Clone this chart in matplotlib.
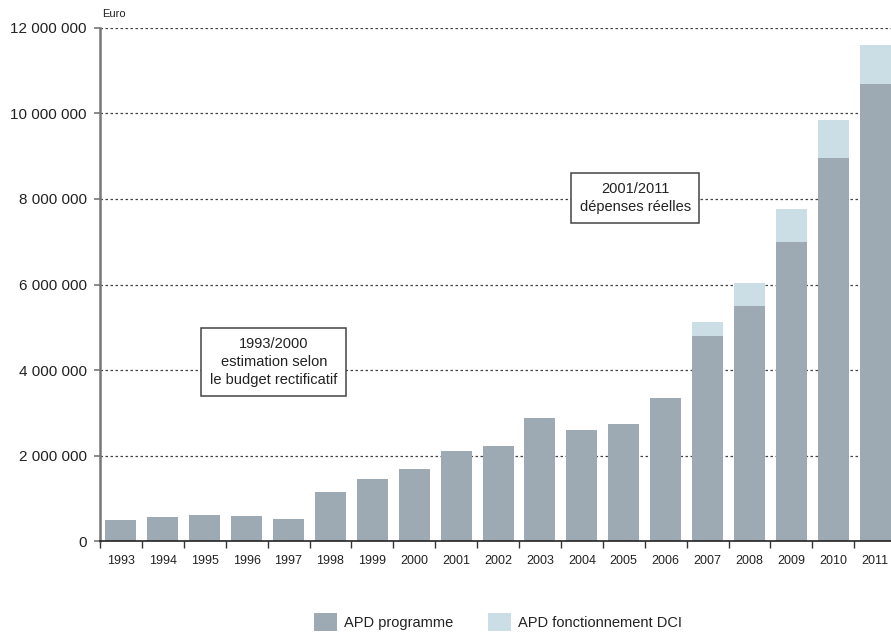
import matplotlib.pyplot as plt
from matplotlib.patches import Patch
from matplotlib.ticker import FuncFormatter

plt.rcParams['font.family'] = ['Liberation Sans', 'DejaVu Sans']

# data (euro)
years = ['1993', '1994', '1995', '1996', '1997', '1998', '1999', '2000', '2001', '2002',
         '2003', '2004', '2005', '2006', '2007', '2008', '2009', '2010', '2011']
programme = [500000, 570000, 615000, 590000, 520000, 1150000, 1455000, 1690000, 2110000, 2225000,
             2880000, 2600000, 2740000, 3350000, 4800000, 5500000, 6990000, 8955000, 10680000]
fonctionnement = [0, 0, 0, 0, 0, 0, 0, 0, 0, 0,
                  0, 0, 0, 0, 320000, 535000, 770000, 885000, 920000]

c_prog = '#9eaab3'
c_fonc = '#cbdde5'
txt = '#222222'

fig = plt.figure(figsize=(8.91, 6.32), dpi=100)
ax = fig.add_axes([100/891, 90.7/632, 791/891, (541.3-27.7)/632])

x = list(range(len(years)))
ax.bar(x, programme, width=0.74, color=c_prog, zorder=2)
ax.bar(x, fonctionnement, width=0.74, bottom=programme, color=c_fonc, zorder=2)

ax.set_xlim(-0.5, -0.5 + 791/41.9)
ax.set_ylim(0, 12000000)

# gridlines
for v in range(2000000, 12000001, 2000000):
    ax.axhline(v, color='#444444', lw=0.9, ls=(0, (2, 2)), zorder=1)

# y axis
ax.set_yticks(range(0, 12000001, 2000000))
ax.yaxis.set_major_formatter(FuncFormatter(lambda v, p: f'{int(v):,}'.replace(',', ' ')))
ax.tick_params(axis='y', length=4.5, width=1.2, color='#777777', pad=5,
               labelsize=11, labelcolor=txt)

# x axis: ticks between bars, labels at centres
ax.set_xticks([i - 0.5 for i in range(len(years))])
ax.set_xticklabels([])
ax.set_xticks(x, minor=True)
ax.set_xticklabels(years, minor=True)
ax.tick_params(axis='x', which='major', length=5, width=1, color='#333333', direction='out')
ax.tick_params(axis='x', which='minor', length=0, pad=10, labelsize=9, labelcolor=txt)

for s in ['top', 'right']:
    ax.spines[s].set_visible(False)
ax.spines['left'].set_color('#777777')
ax.spines['left'].set_linewidth(1.8)
ax.spines['bottom'].set_color('#222222')
ax.spines['bottom'].set_linewidth(1.2)
ax.spines['bottom'].set_zorder(3)

fig.text(102/891, 1 - 17/632, 'Euro', fontsize=8, color=txt, va='baseline')

box = dict(boxstyle='square,pad=0.6', facecolor='white', edgecolor='#444444', linewidth=1.1)
ax.text(3.65, 4190000, '1993/2000\nestimation selon\nle budget rectificatif', ha='center',
        va='center', fontsize=10.5, color=txt, linespacing=1.4, bbox=box, zorder=4)
ax.text(12.27, 8020000, '2001/2011\ndépenses réelles', ha='center', va='center',
        fontsize=10.5, color=txt, linespacing=1.4, bbox=box, zorder=4)

handles = [Patch(facecolor=c_prog, label='APD programme'),
           Patch(facecolor=c_fonc, label='APD fonctionnement DCI')]
fig.legend(handles=handles, loc='center', bbox_to_anchor=(498/891, 1 - 622/632), ncol=2,
           frameon=False, fontsize=10.5, handlelength=1.58, handleheight=1.5,
           handletextpad=0.5, columnspacing=2.4, labelcolor=txt)

fig.savefig('out.png', dpi=100)
